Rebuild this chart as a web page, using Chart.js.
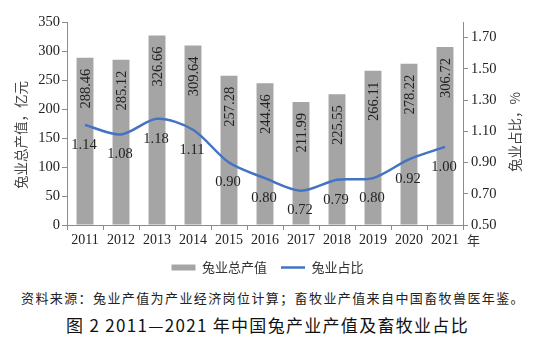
<!DOCTYPE html>
<html>
<head>
<meta charset="utf-8">
<script src="https://cdn.jsdelivr.net/npm/chart.js@4.4.0/dist/chart.umd.min.js"></script>
<style>
  body { margin: 0; background: #fff; }
  #wrap { position: relative; width: 535px; height: 342px; overflow: hidden; }
  #chart { position: absolute; left: 0; top: 0; }
  .note {
    position: absolute; left: 21px; top: 288px; white-space: nowrap;
    font: 13px "Noto Sans CJK SC", sans-serif; letter-spacing: 1.4px; color: #222;
  }
  .caption {
    position: absolute; left: 0; width: 535px; top: 312px; text-align: center; white-space: nowrap;
    font: 400 17px "Noto Sans CJK SC", sans-serif; letter-spacing: 1.3px; color: #111;
  }
</style>
</head>
<body>
<div id="wrap">
  <canvas id="chart" width="535" height="284"></canvas>
  <div class="note">资料来源：兔业产值为产业经济岗位计算；畜牧业产值来自中国畜牧兽医年鉴。</div>
  <div class="caption">图 2 2011—2021 年中国兔产业产值及畜牧业占比</div>
</div>
<script>
// 数据
const years = ["2011", "2012", "2013", "2014", "2015", "2016", "2017", "2018", "2019", "2020", "2021"];
const outputValues = [288.46, 285.12, 326.66, 309.64, 257.28, 244.46, 211.99, 225.55, 266.11, 278.22, 306.72];
const shareValues = [1.14, 1.08, 1.18, 1.11, 0.90, 0.80, 0.72, 0.79, 0.80, 0.92, 1.00];
const outputTicks = [0, 50, 100, 150, 200, 250, 300, 350];
const shareTicks = [0.50, 0.70, 0.90, 1.10, 1.30, 1.50, 1.70];

const serif = "'Liberation Serif', 'Times New Roman', serif";
const cjk = "'Noto Sans CJK SC', sans-serif";
const axisGray = "#8c8c8c";

// 数据标签、坐标轴标题、"年"
const labelPlugin = {
  id: "labels",
  afterDatasetsDraw(chart) {
    const ctx = chart.ctx;
    const area = chart.chartArea;
    ctx.save();
    ctx.fillStyle = "#222";
    ctx.font = "14.5px " + serif;

    // 柱上数值（竖排）
    chart.getDatasetMeta(0).data.forEach((bar, i) => {
      ctx.save();
      ctx.translate(bar.x + 1, bar.y + 11);
      ctx.rotate(-Math.PI / 2);
      ctx.textAlign = "right";
      ctx.textBaseline = "middle";
      ctx.fillText(outputValues[i].toFixed(2), 0, 0);
      ctx.restore();
    });

    // 折线数值
    ctx.textAlign = "center";
    ctx.textBaseline = "middle";
    chart.getDatasetMeta(1).data.forEach((pt, i) => {
      ctx.fillText(shareValues[i].toFixed(2), pt.x - 1, pt.y + 20);
    });

    // 年
    ctx.font = "13px " + cjk;
    ctx.fillStyle = "#333";
    ctx.textAlign = "left";
    ctx.fillText("年", area.right + 4, area.bottom + 15);

    // 坐标轴标题
    ctx.font = "13.5px " + cjk;
    ctx.fillStyle = "#444";
    ctx.textAlign = "center";
    ctx.save();
    ctx.translate(21, 135);
    ctx.rotate(-Math.PI / 2);
    ctx.fillText("兔业总产值，亿元", 0, 0);
    ctx.restore();
    ctx.save();
    ctx.translate(515, 132);
    ctx.rotate(-Math.PI / 2);
    ctx.fillText("兔业占比，%", 0, 0);
    ctx.restore();

    ctx.restore();
  }
};

new Chart(document.getElementById("chart"), {
  data: {
    labels: years,
    datasets: [
      {
        type: "bar",
        label: "兔业总产值",
        data: outputValues,
        backgroundColor: "#a5a5a5",
        borderWidth: 0,
        categoryPercentage: 1,
        barPercentage: 0.47,
        pointStyle: "rect",
        yAxisID: "y",
        order: 2
      },
      {
        type: "line",
        label: "兔业占比",
        data: shareValues,
        borderColor: "#4472c4",
        backgroundColor: "#4472c4",
        borderWidth: 2.5,
        pointRadius: 0,
        tension: 0.3,
        pointStyle: "line",
        yAxisID: "y1",
        order: 1
      }
    ]
  },
  options: {
    responsive: false,
    animation: false,
    layout: { padding: { top: 22, left: 0, right: 0, bottom: 0 } },
    plugins: {
      tooltip: { enabled: false },
      legend: {
        position: "bottom",
        labels: {
          usePointStyle: true,
          pointStyleWidth: 24,
          boxHeight: 6,
          padding: 14,
          color: "#333",
          font: { family: cjk, size: 13 },
          sort: (a, b) => a.datasetIndex - b.datasetIndex
        }
      }
    },
    scales: {
      x: {
        afterFit: (s) => { s.height = 22; },
        grid: { display: true, drawOnChartArea: false, drawTicks: true, tickLength: 5, color: axisGray },
        border: { color: axisGray },
        ticks: { color: "#222", padding: 2, font: { family: serif, size: 14 } }
      },
      y: {
        position: "left",
        min: 0,
        max: 350,
        afterFit: (s) => { s.width = 67; },
        afterBuildTicks: (s) => { s.ticks = outputTicks.map(v => ({ value: v })); },
        grid: { display: true, drawOnChartArea: false, drawTicks: true, tickLength: 5, color: axisGray },
        border: { color: axisGray },
        ticks: { color: "#222", padding: 2, font: { family: serif, size: 14.5 } }
      },
      y1: {
        position: "right",
        min: 0.5,
        max: 1.8,
        afterFit: (s) => { s.width = 72; },
        afterBuildTicks: (s) => { s.ticks = shareTicks.map(v => ({ value: v })); },
        grid: { display: true, drawOnChartArea: false, drawTicks: true, tickLength: 5, color: axisGray },
        border: { color: axisGray },
        ticks: {
          color: "#222", padding: 3, font: { family: serif, size: 14.5 },
          callback: (v) => Number(v).toFixed(2)
        }
      }
    }
  },
  plugins: [labelPlugin]
});
</script>
</body>
</html>
